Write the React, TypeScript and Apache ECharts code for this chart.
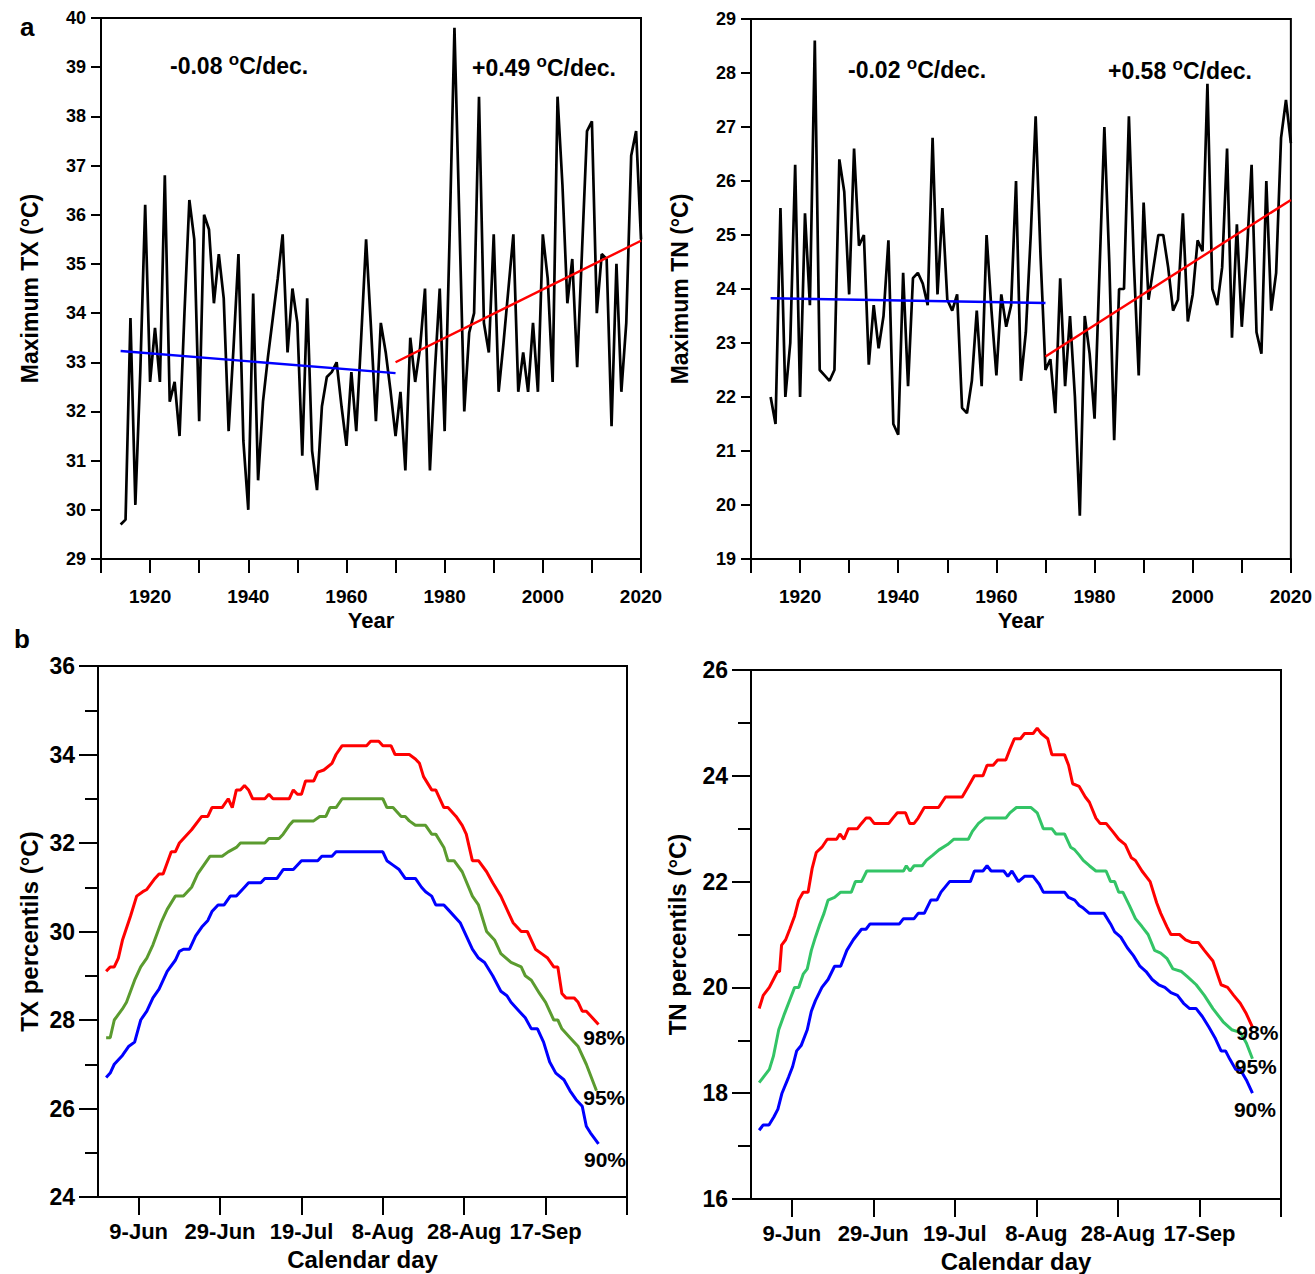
import React, { useEffect, useRef } from 'react';
import * as echarts from 'echarts';

// ---------- Panel a: annual maxima ----------
const firstYear = 1914;
const txMax = [29.7, 29.8, 33.9, 30.1, 32.8, 36.2, 32.6, 33.7, 32.6, 36.8,
  32.2, 32.6, 31.5, 34.0, 36.3, 35.5, 31.8, 36.0, 35.7, 34.2,
  35.2, 34.3, 31.6, 33.3, 35.2, 31.4, 30.0, 34.4, 30.6, 32.2,
  33.1, 33.9, 34.7, 35.6, 33.2, 34.5, 33.8, 31.1, 34.3, 31.2,
  30.4, 32.1, 32.7, 32.8, 33.0, 32.1, 31.3, 32.8, 31.6, 33.5,
  35.5, 33.7, 31.8, 33.8, 33.2, 32.4, 31.5, 32.4, 30.8, 33.5,
  32.6, 33.3, 34.5, 30.8, 32.8, 34.5, 31.6, 35.5, 39.8, 35.9,
  32.0, 33.6, 34.0, 38.4, 33.8, 33.2, 35.6, 32.4, 33.4, 34.5,
  35.6, 32.4, 33.2, 32.4, 33.8, 32.4, 35.6, 34.7, 32.6, 38.4,
  36.6, 34.2, 35.1, 32.9, 35.3, 37.7, 37.9, 34.0, 35.2, 35.1,
  31.7, 35.0, 32.4, 33.8, 37.2, 37.7, 35.5];
const tnMax = [22.0, 21.5, 25.5, 22.0, 23.0, 26.3, 22.0, 25.4, 23.7, 28.6,
  22.5, 22.4, 22.3, 22.5, 26.4, 25.8, 23.9, 26.6, 24.8, 25.0,
  22.6, 23.7, 22.9, 23.5, 24.9, 21.5, 21.3, 24.3, 22.2, 24.2,
  24.3, 24.1, 23.7, 26.8, 23.9, 25.5, 23.8, 23.6, 23.9, 21.8,
  21.7, 22.3, 23.6, 22.2, 25.0, 23.6, 22.4, 23.9, 23.3, 23.7,
  26.0, 22.3, 23.2, 25.0, 27.2, 24.6, 22.5, 22.7, 21.7, 24.2,
  22.2, 23.5, 22.0, 19.8, 23.5, 22.8, 21.6, 24.3, 27.0, 24.5,
  21.2, 24.0, 24.0, 27.2, 24.5, 22.4, 25.6, 23.8, 24.4, 25.0,
  25.0, 24.4, 23.6, 23.8, 25.4, 23.4, 23.9, 24.9, 24.7, 27.8,
  24.0, 23.7, 24.4, 26.6, 23.1, 25.2, 23.3, 24.6, 26.3, 23.2,
  22.8, 26.0, 23.6, 24.3, 26.8, 27.5, 26.7];
const years = txMax.map((_, i) => firstYear + i);

// trend segments [year, value]
const txTrendEarly = [[1914, 33.23], [1970, 32.78]];
const txTrendLate = [[1970, 33.0], [2020, 35.47]];
const tnTrendEarly = [[1914, 23.83], [1970, 23.74]];
const tnTrendLate = [[1970, 22.75], [2020, 25.65]];
const trendTexts = ['-0.08 ', '+0.49 ', '-0.02 ', '+0.58 '];

// ---------- Panel b: daily percentiles (day 0 = 1 June) ----------
const dayTicks = [8, 28, 48, 68, 88, 108, 128];
const dayTickLabels = ['9-Jun', '29-Jun', '19-Jul', '8-Aug', '28-Aug', '17-Sep', ''];

const tx98 = [[0, 29.1], [1, 29.2], [2, 29.2], [3, 29.4], [4, 29.8], [6, 30.35], [7.5, 30.8], [9, 30.9], [10, 30.95], [12, 31.2], [13, 31.3], [14, 31.3], [16, 31.8], [17, 31.8], [18, 32.0], [21, 32.3], [23.5, 32.6], [25, 32.6], [26, 32.8], [28.5, 32.8], [30, 33.0], [31, 32.8], [32, 33.2], [33, 33.2], [34, 33.3], [35, 33.2], [36, 33.0], [39, 33.0], [40, 33.1], [41, 33.0], [45, 33.0], [46, 33.2], [47, 33.1], [48, 33.1], [49, 33.4], [51, 33.4], [52, 33.6], [53.5, 33.65], [55.5, 33.8], [56.5, 34.0], [58, 34.2], [64, 34.2], [65, 34.3], [67, 34.3], [68, 34.2], [70, 34.2], [71, 34.0], [74.5, 34.0], [76, 33.9], [77, 33.8], [78, 33.5], [80, 33.2], [81, 33.2], [83, 32.8], [84, 32.8], [86, 32.6], [87.5, 32.4], [88.5, 32.2], [90, 31.6], [91.5, 31.6], [93.5, 31.35], [95, 31.1], [97, 30.8], [99, 30.4], [100, 30.2], [102, 30.0], [103.5, 30.0], [105.5, 29.6], [107, 29.5], [108.5, 29.4], [110, 29.2], [111, 29.2], [112, 28.6], [113, 28.5], [115, 28.5], [116, 28.4], [117, 28.2], [118, 28.2], [121, 27.9]];
const tx95 = [[0, 27.6], [1, 27.6], [2, 28.0], [4, 28.25], [5, 28.4], [7, 28.9], [8.5, 29.2], [10, 29.4], [11.5, 29.7], [13.5, 30.2], [15, 30.5], [17, 30.8], [19, 30.8], [21, 31.0], [22.5, 31.3], [24, 31.5], [25.5, 31.7], [28.5, 31.7], [30, 31.8], [31, 31.85], [32, 31.9], [33, 32.0], [39, 32.0], [40, 32.1], [42.5, 32.1], [43.5, 32.2], [45, 32.4], [46, 32.5], [51, 32.5], [52.5, 32.6], [54, 32.6], [55, 32.8], [56.5, 32.8], [58, 33.0], [68, 33.0], [69, 32.8], [70.5, 32.8], [71.5, 32.7], [72.5, 32.6], [73.5, 32.6], [74.5, 32.5], [76, 32.4], [78.5, 32.4], [80, 32.2], [81, 32.2], [83, 31.9], [84, 31.6], [85.5, 31.6], [87.5, 31.35], [90, 30.8], [91.5, 30.6], [93.5, 30.0], [95.5, 29.8], [97, 29.5], [99.5, 29.3], [102, 29.2], [103, 29.0], [104.5, 28.9], [106.5, 28.6], [108, 28.4], [110, 28.0], [111, 28.0], [112, 27.8], [114, 27.6], [116, 27.4], [118, 27.0], [120.5, 26.4]];
const tx90 = [[0, 26.7], [1, 26.8], [2, 27.0], [4, 27.2], [5.5, 27.4], [7, 27.5], [8.5, 28.0], [10, 28.2], [11.5, 28.5], [13, 28.7], [15, 29.1], [17, 29.35], [18, 29.55], [19, 29.6], [20.5, 29.6], [22, 29.9], [23.5, 30.1], [25, 30.25], [26, 30.45], [27.5, 30.6], [29, 30.6], [30.5, 30.8], [32, 30.8], [34, 31.0], [35, 31.1], [38, 31.1], [39, 31.2], [42, 31.2], [43.5, 31.4], [46, 31.4], [48, 31.6], [52, 31.6], [53, 31.7], [55.5, 31.7], [56.5, 31.8], [68, 31.8], [69, 31.6], [70.5, 31.5], [72, 31.4], [73.5, 31.2], [76, 31.2], [77.5, 31.0], [78.5, 30.9], [80, 30.8], [81, 30.6], [83, 30.6], [84, 30.5], [87, 30.2], [88.5, 29.9], [90, 29.6], [91.5, 29.4], [93, 29.3], [95, 29.0], [97, 28.65], [98.5, 28.55], [99.5, 28.4], [101.5, 28.2], [103, 28.05], [104.5, 27.8], [106, 27.8], [107.5, 27.5], [109, 27.05], [110.5, 26.8], [112.5, 26.65], [114, 26.4], [115.5, 26.2], [117, 26.05], [118, 25.6], [119, 25.45], [121, 25.2]];

const tn98 = [[0, 19.6], [1, 19.85], [2.5, 20.0], [3.5, 20.15], [4.5, 20.3], [5, 20.3], [5.5, 20.8], [6.5, 20.9], [7.5, 21.1], [8.7, 21.35], [9.7, 21.65], [10.8, 21.8], [12, 21.8], [13, 22.25], [14, 22.55], [15.4, 22.65], [16.7, 22.8], [19, 22.8], [19.8, 22.9], [20.8, 22.8], [21.9, 23.0], [24.1, 23.0], [25.1, 23.1], [26.2, 23.2], [27.2, 23.2], [28.2, 23.1], [31.8, 23.1], [32.8, 23.2], [33.9, 23.3], [35.9, 23.3], [36.9, 23.1], [38, 23.1], [39, 23.2], [40.5, 23.4], [44, 23.4], [45.7, 23.6], [49.8, 23.6], [51.3, 23.8], [52.8, 24.0], [54.9, 24.0], [55.9, 24.2], [57.4, 24.2], [58.5, 24.3], [60.5, 24.3], [61.5, 24.5], [62.6, 24.7], [64.1, 24.7], [65.1, 24.8], [67.2, 24.8], [68.2, 24.9], [69.2, 24.8], [70.8, 24.7], [71.8, 24.4], [74.9, 24.4], [75.9, 24.2], [76.9, 23.85], [78.5, 23.8], [80, 23.6], [81, 23.5], [82.6, 23.2], [83.6, 23.1], [85.1, 23.1], [86.7, 22.95], [88.2, 22.8], [89.8, 22.7], [91.3, 22.45], [92.3, 22.4], [93.9, 22.2], [95.9, 22.0], [97.5, 21.6], [98.5, 21.4], [100, 21.15], [101, 21.0], [103.1, 21.0], [104.6, 20.9], [106.1, 20.85], [107.7, 20.85], [109.2, 20.7], [111.3, 20.5], [113.3, 20.05], [114.9, 20.0], [116.4, 19.85], [118, 19.7], [119.5, 19.5], [121, 19.25]];
const tn95 = [[0, 18.2], [1, 18.3], [2.5, 18.45], [3.5, 18.7], [4.8, 19.2], [6.2, 19.5], [7.7, 19.8], [8.7, 20.0], [9.7, 20.0], [10.8, 20.25], [11.8, 20.35], [12.8, 20.7], [13.8, 20.95], [14.9, 21.2], [15.9, 21.4], [16.9, 21.65], [18.5, 21.7], [20, 21.8], [22.6, 21.8], [23.6, 22.0], [25.1, 22.0], [26.4, 22.2], [35.4, 22.2], [36.1, 22.3], [37, 22.2], [38, 22.3], [40, 22.3], [41, 22.4], [42.6, 22.5], [44.1, 22.6], [46.2, 22.7], [47.7, 22.8], [51.3, 22.8], [52.3, 22.95], [53.8, 23.1], [55.4, 23.2], [60.5, 23.2], [61.5, 23.3], [63.1, 23.4], [66.7, 23.4], [68.2, 23.3], [69.7, 23.0], [71.8, 23.0], [72.8, 22.9], [74.9, 22.9], [76.4, 22.65], [77.4, 22.6], [78.5, 22.5], [79.5, 22.4], [81, 22.3], [82.6, 22.2], [85.1, 22.2], [86.2, 22.0], [87.2, 22.0], [88.2, 21.8], [89.2, 21.8], [90.8, 21.55], [92.3, 21.3], [93.9, 21.15], [95.4, 21.0], [97, 20.7], [98.5, 20.65], [100, 20.55], [101.5, 20.35], [103.6, 20.3], [105.1, 20.2], [107.2, 20.05], [109.2, 19.85], [111.3, 19.6], [113.8, 19.35], [115.9, 19.2], [118, 19.15], [119.5, 18.95], [121, 18.65]];
const tn90 = [[0, 17.3], [1, 17.4], [2.4, 17.4], [3.6, 17.55], [4.6, 17.7], [5.6, 18.0], [7.2, 18.3], [8.2, 18.5], [9.2, 18.8], [10.3, 18.9], [11.8, 19.2], [12.8, 19.55], [13.8, 19.75], [15.4, 20.0], [16.9, 20.15], [18.5, 20.4], [20, 20.4], [21.5, 20.7], [23.1, 20.9], [25.1, 21.1], [26.2, 21.1], [27.2, 21.2], [34.4, 21.2], [35.4, 21.3], [38, 21.3], [39, 21.4], [40.5, 21.4], [42.1, 21.65], [43.6, 21.65], [44.6, 21.8], [46.7, 22.0], [51.8, 22.0], [52.8, 22.2], [54.9, 22.2], [55.9, 22.3], [56.9, 22.2], [60, 22.2], [61, 22.1], [62, 22.2], [63.6, 22.0], [65.1, 22.1], [67.2, 22.1], [68.7, 21.95], [69.7, 21.8], [74.9, 21.8], [75.9, 21.7], [77.4, 21.65], [78.5, 21.55], [79.5, 21.5], [81, 21.4], [84.6, 21.4], [86.2, 21.2], [87.2, 21.05], [88.7, 20.95], [90.3, 20.75], [91.8, 20.6], [93.4, 20.4], [94.9, 20.3], [96.4, 20.15], [98, 20.05], [99.5, 20.0], [101, 19.9], [102.6, 19.85], [104.1, 19.7], [105.6, 19.6], [107.2, 19.6], [108.7, 19.45], [110.3, 19.25], [111.8, 19.05], [113.3, 18.8], [114.4, 18.8], [115.4, 18.65], [116.9, 18.45], [118, 18.45], [119.5, 18.25], [121, 18.0]];

// percentile label anchors [day, value]
const txLabelPos = { p98: [122.4, 27.6], p95: [122.4, 26.24], p90: [122.6, 24.84] };
const tnLabelPos = { p98: [122.2, 19.14], p95: [121.8, 18.51], p90: [121.6, 17.7] };

const FONT = "'Liberation Sans', Arial, Helvetica, sans-serif";
const BLACK = '#000';

function App() {
  const ref = useRef<HTMLDivElement>(null);

  useEffect(() => {
    if (!ref.current) return;
    const chart = echarts.init(ref.current, undefined, { renderer: 'svg' });

    const lbl = (size: number) => ({ color: BLACK, fontSize: size, fontWeight: 'bold', fontFamily: FONT });
    const line = { show: true, onZero: false, lineStyle: { color: BLACK, width: 2 } };

    const topX = (gi: number) => ({
      gridIndex: gi, type: 'value', min: 1910, max: 2020, interval: 10,
      name: 'Year', nameLocation: 'middle', nameGap: 50, nameTextStyle: lbl(22),
      axisLine: line,
      axisTick: { show: true, length: 14, lineStyle: { color: BLACK, width: 2 } },
      axisLabel: { ...lbl(19), margin: 28, formatter: (v: number) => (v % 20 === 0 ? String(v) : '') },
      splitLine: { show: false },
    });
    const topY = (gi: number, min: number, max: number, name: string) => ({
      gridIndex: gi, type: 'value', min, max, interval: 1,
      name, nameLocation: 'middle', nameGap: 60, nameTextStyle: lbl(23),
      axisLine: line,
      axisTick: { show: true, length: 10, lineStyle: { color: BLACK, width: 2 } },
      axisLabel: { ...lbl(18), margin: 15 },
      splitLine: { show: false },
    });
    const botX = (gi: number) => ({
      gridIndex: gi, type: 'value', min: -2, max: 128,
      name: 'Calendar day', nameLocation: 'middle', nameGap: 50, nameTextStyle: lbl(24),
      axisLine: line,
      axisTick: { show: true, length: 18, customValues: dayTicks, lineStyle: { color: BLACK, width: 2 } },
      axisLabel: {
        ...lbl(22), margin: 23, customValues: dayTicks.slice(0, 6),
        formatter: (v: number) => { const i = dayTicks.indexOf(Math.round(v)); return i >= 0 ? dayTickLabels[i] : ''; },
      },
      splitLine: { show: false },
    });
    const botY = (gi: number, min: number, max: number, name: string, gap: number) => ({
      gridIndex: gi, type: 'value', min, max, interval: 2,
      name, nameLocation: 'middle', nameGap: gap, nameTextStyle: lbl(24),
      axisLine: line,
      axisTick: { show: true, length: 19, lineStyle: { color: BLACK, width: 2 } },
      minorTick: { show: true, splitNumber: 2, length: 13, lineStyle: { color: BLACK, width: 2 } },
      axisLabel: { ...lbl(23), margin: 23 },
      splitLine: { show: false },
    });

    const blackLine = (gi: number, vals: number[]) => ({
      type: 'line', xAxisIndex: gi, yAxisIndex: gi, showSymbol: false, symbol: 'none',
      data: years.map((y, i) => [y, vals[i]]),
      lineStyle: { color: BLACK, width: 2.7 }, z: 2,
    });
    const trend = (gi: number, data: number[][], color: string) => ({
      type: 'line', xAxisIndex: gi, yAxisIndex: gi, showSymbol: false, symbol: 'none',
      data, lineStyle: { color, width: 2.4 }, z: 3,
    });
    const pct = (gi: number, data: number[][], color: string, label: string, pos: number[]) => ({
      type: 'line', xAxisIndex: gi, yAxisIndex: gi, showSymbol: false, symbol: 'none',
      data, lineStyle: { color, width: 3 },
      markPoint: {
        symbol: 'circle', symbolSize: 0, silent: true,
        label: { show: true, position: 'inside', formatter: label, ...lbl(21) },
        data: [{ coord: pos, value: 0 }],
      },
    });

    const rich = (prefix: string, x: number, y: number) => ({
      type: 'text', left: x, top: y, silent: true,
      style: {
        text: `{a|${prefix}}{s|o}{a|C/dec.}`,
        rich: {
          a: { fontSize: 23, fontWeight: 'bold', fontFamily: FONT, fill: BLACK, lineHeight: 26, verticalAlign: 'bottom' },
          s: { fontSize: 17, fontWeight: 'bold', fontFamily: FONT, fill: BLACK, lineHeight: 26, verticalAlign: 'top' },
        },
      },
    });

    const gridBase = { show: true, borderColor: BLACK, borderWidth: 2, backgroundColor: 'transparent', containLabel: false };

    chart.setOption({
      animation: false,
      backgroundColor: '#fff',
      grid: [
        { ...gridBase, left: 101, top: 18, width: 540, height: 541 },
        { ...gridBase, left: 751, top: 19, width: 540, height: 540 },
        { ...gridBase, left: 98, top: 666, width: 529, height: 531 },
        { ...gridBase, left: 751, top: 670, width: 530, height: 529 },
      ],
      xAxis: [topX(0), topX(1), botX(2), botX(3)],
      yAxis: [
        topY(0, 29, 40, 'Maximum TX (°C)'),
        topY(1, 19, 29, 'Maximum TN (°C)'),
        botY(2, 24, 36, 'TX percentils (°C)', 57),
        botY(3, 16, 26, 'TN percentils (°C)', 62),
      ],
      series: [
        blackLine(0, txMax),
        trend(0, txTrendEarly, '#0000ff'),
        trend(0, txTrendLate, '#ff0000'),
        blackLine(1, tnMax),
        trend(1, tnTrendEarly, '#0000ff'),
        trend(1, tnTrendLate, '#ff0000'),
        pct(2, tx98, '#ff0000', '98%', txLabelPos.p98),
        pct(2, tx95, '#5b9b2f', '95%', txLabelPos.p95),
        pct(2, tx90, '#0000ff', '90%', txLabelPos.p90),
        pct(3, tn98, '#ff0000', '98%', tnLabelPos.p98),
        pct(3, tn95, '#33c466', '95%', tnLabelPos.p95),
        pct(3, tn90, '#0000ff', '90%', tnLabelPos.p90),
      ],
      graphic: [
        { type: 'text', left: 20, top: 14, silent: true, style: { text: 'a', fontSize: 26, fontWeight: 'bold', fontFamily: FONT, fill: BLACK } },
        { type: 'text', left: 14, top: 626, silent: true, style: { text: 'b', fontSize: 26, fontWeight: 'bold', fontFamily: FONT, fill: BLACK } },
        rich(trendTexts[0], 170, 51),
        rich(trendTexts[1], 472, 53),
        rich(trendTexts[2], 848, 55),
        rich(trendTexts[3], 1108, 56),
      ],
    });

    return () => chart.dispose();
  }, []);

  return <div ref={ref} style={{ position: 'absolute', left: 0, top: 0, width: 1315, height: 1274 }} />;
}

export default App;
